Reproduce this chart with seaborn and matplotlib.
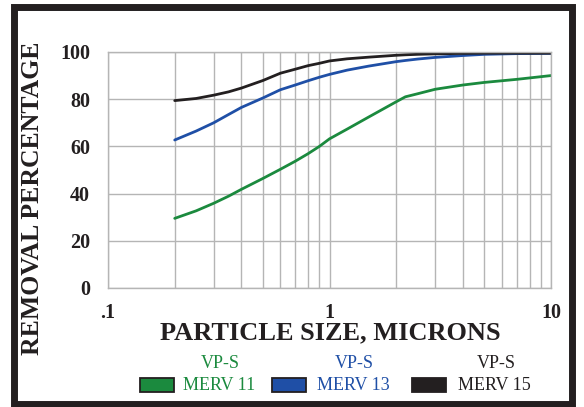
import pandas as pd
import matplotlib.pyplot as plt
import seaborn as sns
from matplotlib.patches import Rectangle
from matplotlib.ticker import FixedLocator, NullFormatter

# Particle sizes (microns) and removal percentages
size_um = [0.2, 0.25, 0.3, 0.35, 0.4, 0.5, 0.6, 0.7, 0.8, 0.9, 1.0, 1.2, 1.5,
           2.0, 2.2, 2.5, 3.0, 4.0, 5.0, 7.0, 10.0]
merv11 = [29.5, 32.7, 35.9, 38.9, 41.8, 46.4, 50.3, 53.7, 56.9, 60, 63.2, 67.3, 72.4,
          78.9, 81, 82.3, 84.2, 86, 87.1, 88.4, 90]
merv13 = [62.7, 66.5, 70, 73.5, 76.5, 80.5, 84, 86, 87.8, 89.3, 90.5, 92.3, 94,
          95.9, 96.4, 97, 97.7, 98.5, 99, 99.3, 99.4]
merv15 = [79.4, 80.3, 81.7, 83.1, 84.7, 87.9, 91, 92.7, 94.2, 95.2, 96.2, 97.1, 97.8,
          98.6, 98.8, 99, 99.2, 99.4, 99.5, 99.5, 99.5]

filters = ['MERV 11', 'MERV 13', 'MERV 15']
colors = ['#1b8a3e', '#1f4fa6', '#231f20']
x_ticks = [0.1, 1, 10]
x_tick_labels = ['.1', '1', '10']
x_minor = [0.2, 0.3, 0.4, 0.5, 0.6, 0.7, 0.8, 0.9, 2, 3, 4, 5, 6, 7, 8, 9]
y_ticks = [0, 20, 40, 60, 80, 100]
y_minor = [10, 30, 50, 70, 90]

df = pd.concat([
    pd.DataFrame({'size': size_um, 'removal': vals, 'filter': name})
    for name, vals in zip(filters, [merv11, merv13, merv15])
])

sns.set_style('white')
plt.rcParams['font.family'] = ['Liberation Serif', 'DejaVu Serif']

fig = plt.figure(figsize=(5.84, 4.07), dpi=100)
ax = fig.add_axes([0.185, 0.2924, 0.7585, 0.5799])

sns.lineplot(data=df, x='size', y='removal', hue='filter', palette=colors,
             linewidth=2, legend=False, ax=ax)
for ln in ax.get_lines():
    ln.set_solid_joinstyle('round')

ax.set_xscale('log')
ax.set_xlim(0.1, 10)
ax.set_ylim(0, 100)
ax.set_xticks(x_ticks)
ax.set_xticklabels(x_tick_labels)
ax.xaxis.set_minor_locator(FixedLocator(x_minor))
ax.xaxis.set_minor_formatter(NullFormatter())
ax.set_yticks(y_ticks)
ax.yaxis.set_minor_locator(FixedLocator(y_minor))

grid_color = '#b5b5b5'
ax.grid(True, which='both', axis='x', color=grid_color, linewidth=1)
ax.grid(True, which='major', axis='y', color=grid_color, linewidth=1)
for s in ax.spines.values():
    s.set_color(grid_color)
    s.set_linewidth(1)

ax.tick_params(axis='x', which='both', length=0, pad=11)
ax.tick_params(axis='y', which='major', length=0, pad=13)
ax.tick_params(axis='y', which='minor', direction='in', length=8, color=grid_color, width=1)
for lab in ax.get_xticklabels() + ax.get_yticklabels():
    lab.set_fontsize(14.5)
    lab.set_fontweight('bold')
    lab.set_color('#231f20')

ax.set_xlabel('')
ax.set_ylabel('')
fig.text(330 / 584, 1 - 333 / 407, 'PARTICLE SIZE, MICRONS', ha='center', va='center',
         fontsize=19, fontweight='bold', color='#231f20')
fig.text(32.5 / 584, 1 - 198 / 407, 'REMOVAL PERCENTAGE', ha='center', va='center',
         rotation=90, fontsize=18.5, fontweight='bold', color='#231f20')

# Legend drawn by hand: "VP-S" over each filter name
W, H = 584, 407
patch_left = [140, 272, 412]
text_left = [183, 317, 458]
vps_center = [220, 354, 496]
for name, col, pl, tl, vc in zip(filters, colors, patch_left, text_left, vps_center):
    fig.patches.append(Rectangle((pl / W, 1 - 392 / H), 34 / W, 14 / H, transform=fig.transFigure,
                                 facecolor=col, edgecolor='#231f20', linewidth=1.3))
    fig.text(tl / W, 1 - 386 / H, name, ha='left', va='center', fontsize=13, color=col)
    fig.text(vc / W, 1 - 364 / H, 'VP-S', ha='center', va='center', fontsize=13, color=col)

# Thick frame around the figure
fig.patches.append(Rectangle((13.5 / W, 1 - 403.5 / H), (572 - 13.5) / W, (403.5 - 6.5) / H,
                             transform=fig.transFigure, fill=False,
                             edgecolor='#231f20', linewidth=5))

fig.savefig('out.png', dpi=100)
plt.close(fig)
